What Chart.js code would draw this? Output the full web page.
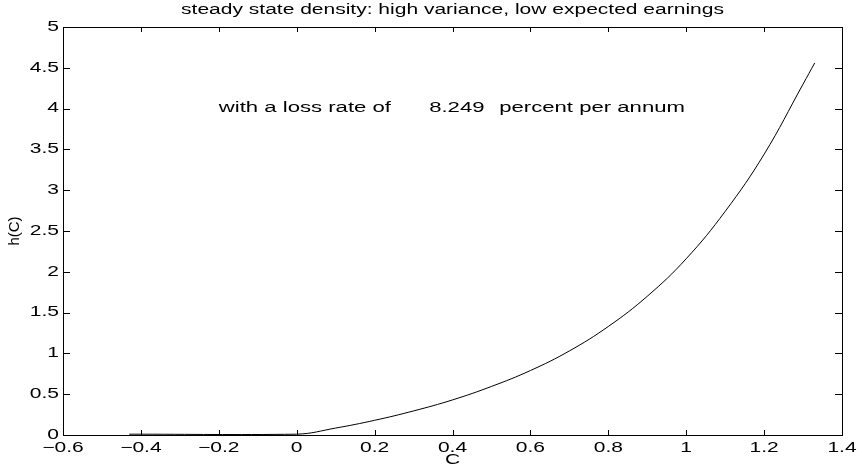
<!DOCTYPE html>
<html>
<head>
<meta charset="utf-8">
<title>steady state density</title>
<script src="https://cdn.jsdelivr.net/npm/chart.js@4"></script>
<style>
  html, body { margin: 0; padding: 0; background: #fff; }
  canvas { display: block; }
</style>
</head>
<body>
<canvas id="densityChart" width="862" height="471"></canvas>
<script>
// values
const cValues = [-0.43, 0, 0.1, 0.2, 0.3, 0.4, 0.5, 0.6, 0.7, 0.8, 0.9, 1.0, 1.1, 1.2, 1.3, 1.33];
const hValues = [0.01, 0.01, 0.085, 0.18, 0.295, 0.43, 0.595, 0.79, 1.03, 1.33, 1.70, 2.16, 2.74, 3.44, 4.3, 4.56];

const xTicks = [-0.6, -0.4, -0.2, 0, 0.2, 0.4, 0.6, 0.8, 1, 1.2, 1.4];
const xTickLabels = ['\u22120.6', '\u22120.4', '\u22120.2', '0', '0.2', '0.4', '0.6', '0.8', '1', '1.2', '1.4'];
const yTicks = [0, 0.5, 1, 1.5, 2, 2.5, 3, 3.5, 4, 4.5, 5];
const yTickLabels = ['0', '0.5', '1', '1.5', '2', '2.5', '3', '3.5', '4', '4.5', '5'];

const titleText = 'steady state density: high variance, low expected earnings';
const xLabelText = 'C';
const yLabelText = 'h(C)';

// text placed in data units, like matlab's text()
const noteParts = [
    { text: 'with a loss rate of', x: -0.2, y: 4 },
    { text: '8.249', x: 0.34, y: 4 },
    { text: 'percent per annum', x: 0.52, y: 4 }
];

const FONT = '14px "Liberation Sans", Arial, sans-serif';
const STRETCH = 1.5; // the reference glyphs are wide

function wideText(ctx, text, x, y, align, sx) {
    ctx.save();
    ctx.translate(x, y);
    ctx.scale(sx || STRETCH, 1);
    ctx.textAlign = align;
    ctx.fillText(text, 0, 0);
    ctx.restore();
}

// draws the matlab-style box, inward ticks and all labels
const matlabAxes = {
    id: 'matlabAxes',
    afterDraw(chart) {
        const ctx = chart.ctx;
        const area = chart.chartArea;
        const xs = chart.scales.x;
        const ys = chart.scales.y;

        ctx.save();
        ctx.strokeStyle = '#000';
        ctx.lineWidth = 1;
        ctx.strokeRect(Math.round(area.left) + 0.5, Math.round(area.top) + 0.5,
            Math.round(area.right - area.left), Math.round(area.bottom - area.top));

        ctx.beginPath();
        xTicks.forEach(v => {
            const px = Math.round(xs.getPixelForValue(v)) + 0.5;
            ctx.moveTo(px, area.bottom); ctx.lineTo(px, area.bottom - 5);
            ctx.moveTo(px, area.top); ctx.lineTo(px, area.top + 5);
        });
        yTicks.forEach(v => {
            const py = Math.round(ys.getPixelForValue(v)) + 0.5;
            ctx.moveTo(area.left, py); ctx.lineTo(area.left + 7, py);
            ctx.moveTo(area.right, py); ctx.lineTo(area.right - 7, py);
        });
        ctx.stroke();

        ctx.fillStyle = '#000';
        ctx.font = FONT;
        ctx.textBaseline = 'middle';
        xTicks.forEach((v, i) => {
            wideText(ctx, xTickLabels[i], xs.getPixelForValue(v), area.bottom + 13, 'center');
        });
        yTicks.forEach((v, i) => {
            wideText(ctx, yTickLabels[i], area.left - 4, ys.getPixelForValue(v), 'right');
        });

        const midX = (area.left + area.right) / 2;
        const midY = (area.top + area.bottom) / 2;
        wideText(ctx, titleText, midX, 10, 'center');
        wideText(ctx, xLabelText, midX, area.bottom + 25, 'center');

        ctx.save();
        ctx.translate(15, midY);
        ctx.rotate(-Math.PI / 2);
        ctx.textAlign = 'center';
        ctx.font = '15px "Liberation Sans", Arial, sans-serif';
        ctx.fillText(yLabelText, 0, 0);
        ctx.restore();

        noteParts.forEach(p => {
            wideText(ctx, p.text, xs.getPixelForValue(p.x), ys.getPixelForValue(p.y), 'left', 1.58);
        });
        ctx.restore();
    }
};

const points = cValues.map((c, i) => ({ x: c, y: hValues[i] }));

new Chart(document.getElementById('densityChart'), {
    type: 'line',
    data: {
        datasets: [{
            data: points,
            borderColor: '#000',
            borderWidth: 1,
            pointRadius: 0,
            fill: false,
            tension: 0.4
        }]
    },
    options: {
        responsive: false,
        animation: false,
        layout: { padding: { left: 63, right: 20, top: 27, bottom: 36 } },
        scales: {
            x: { type: 'linear', min: -0.6, max: 1.4, display: false },
            y: { type: 'linear', min: 0, max: 5, display: false }
        },
        plugins: {
            legend: { display: false },
            tooltip: { enabled: false },
            title: { display: false }
        }
    },
    plugins: [matlabAxes]
});
</script>
</body>
</html>
